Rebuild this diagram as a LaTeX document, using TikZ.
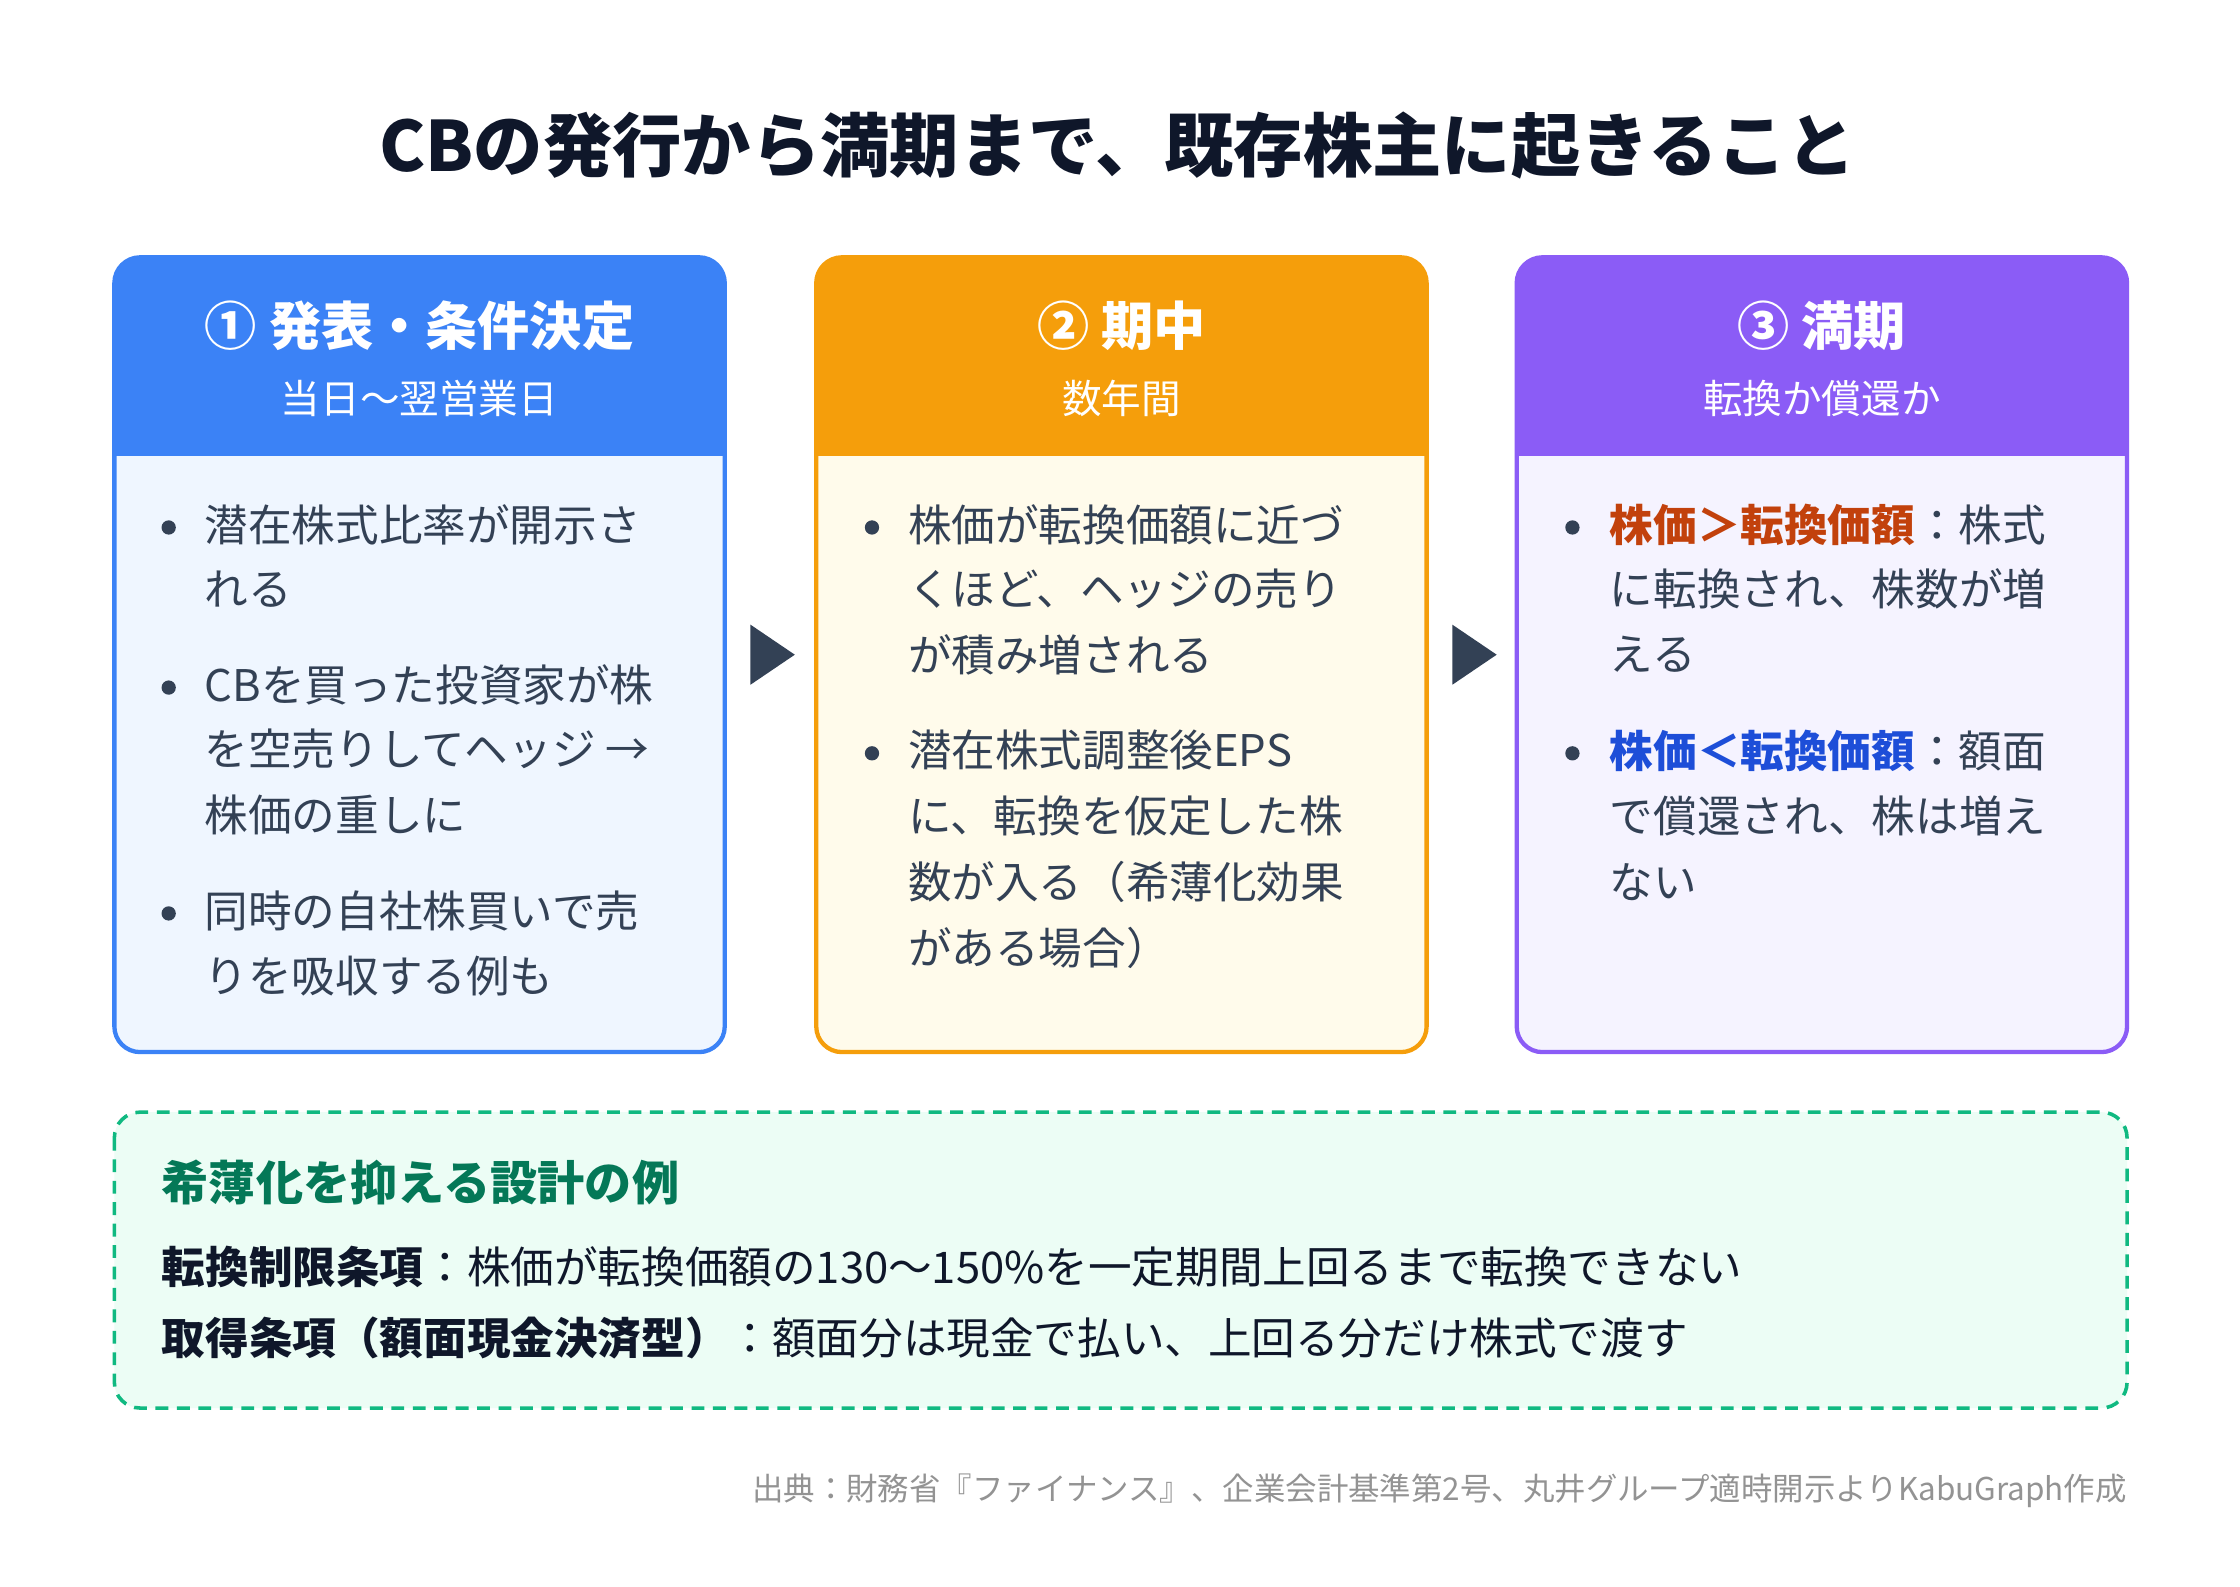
\documentclass[tikz,border=0pt]{standalone}
\usepackage{fontspec}
\setmainfont{Noto Sans CJK JP}
\begin{document}
\begin{tikzpicture}[x=1pt,y=-1pt,
  tx/.style={anchor=west,inner sep=0pt,text=txt,font=\fontsize{30.5}{36}\selectfont},
  hd/.style={inner sep=0pt,text=white,font=\bfseries\fontsize{36.5}{42}\selectfont},
  sb/.style={inner sep=0pt,text=white,font=\fontsize{27.7}{32}\selectfont},
  dot/.style={circle,fill=txt,inner sep=0pt,minimum size=10pt}]
\definecolor{txt}{HTML}{334155}
\definecolor{dark}{HTML}{0F172A}
\definecolor{bl}{HTML}{3B82F6}\definecolor{blf}{HTML}{EFF6FF}
\definecolor{or}{HTML}{F59E0B}\definecolor{orf}{HTML}{FFFBEB}
\definecolor{pu}{HTML}{8B5CF6}\definecolor{puf}{HTML}{F5F3FF}
\definecolor{gr}{HTML}{10B981}\definecolor{grf}{HTML}{ECFDF5}\definecolor{grt}{HTML}{047857}
\definecolor{hor}{HTML}{C2410C}\definecolor{hbl}{HTML}{1D4ED8}
\useasboundingbox[fill=white] (0,0) rectangle (1567,1109.5);
\node[inner sep=0pt,text=dark,font=\bfseries\fontsize{48.5}{55}\selectfont] (title) at (782,102) {CBの発行から満期まで、既存株主に起きること};
\foreach \x/\c/\f/\n in {80/bl/blf/a,571/or/orf/b,1061/pu/puf/c}{
  \fill[\f,rounded corners=18pt] (\x,180) rectangle (\x+427,736);
  \begin{scope}
    \clip[rounded corners=18pt] (\x,180) rectangle (\x+427,736);
    \fill[\c] (\x,180) rectangle (\x+427,319);
  \end{scope}
  \draw[\c,line width=3pt,rounded corners=18pt] (\x,180) rectangle (\x+427,736);
}
\node[hd] (h1) at (293.5,228) {① 発表・条件決定};
\node[sb] (s1) at (293.5,279) {当日〜翌営業日};
\node[hd] (h2) at (784.5,228) {② 期中};
\node[sb] (s2) at (784.5,279) {数年間};
\node[hd] (h3) at (1274.5,228) {③ 満期};
\node[sb] (s3) at (1274.5,279) {転換か償還か};
\fill[txt] (525,437) -- (556,458) -- (525,479) -- cycle;
\fill[txt] (1016,437) -- (1047,458) -- (1016,479) -- cycle;
% box1
\foreach \y in {369,481,639}{\node[dot] at (118,\y) {};}
\node[tx] (a1) at (143,367) {潜在株式比率が開示さ};
\node[tx] (a2) at (143,412) {れる};
\node[tx] (a3) at (143,479) {CBを買った投資家が株};
\node[tx] (a4) at (143,524) {を空売りしてヘッジ →};
\node[tx] (a5) at (143,570) {株価の重しに};
\node[tx] (a6) at (143,637) {同時の自社株買いで売};
\node[tx] (a7) at (143,683) {りを吸収する例も};
% box2
\foreach \y in {369,527}{\node[dot] at (610,\y) {};}
\node[tx] (b1) at (635,367) {株価が転換価額に近づ};
\node[tx] (b2) at (635,412) {くほど、ヘッジの売り};
\node[tx] (b3) at (635,458) {が積み増される};
\node[tx] (b4) at (635,525) {潜在株式調整後EPS};
\node[tx] (b5) at (635,571) {に、転換を仮定した株};
\node[tx] (b6) at (635,617) {数が入る（希薄化効果};
\node[tx] (b7) at (635,663) {がある場合）};
% box3
\foreach \y in {369,527}{\node[dot] at (1100,\y) {};}
\node[tx] (c1) at (1126,367) {{\bfseries\color{hor}株価＞転換価額}：株式};
\node[tx] (c2) at (1126,412) {に転換され、株数が増};
\node[tx] (c3) at (1126,458) {える};
\node[tx] (c4) at (1126,525) {{\bfseries\color{hbl}株価＜転換価額}：額面};
\node[tx] (c5) at (1126,571) {で償還され、株は増え};
\node[tx] (c6) at (1126,617) {ない};
% bottom
\draw[gr,fill=grf,line width=2.5pt,dash pattern=on 9pt off 6pt,rounded corners=18pt] (80,778) rectangle (1488,985);
\node[tx,text=grt,font=\bfseries\fontsize{33}{38}\selectfont] (g0) at (113,827) {希薄化を抑える設計の例};
\node[tx,text=dark,font=\fontsize{30.5}{36}\selectfont] (g1) at (113,886) {{\bfseries 転換制限条項}：株価が転換価額の130〜150\%を一定期間上回るまで転換できない};
\node[tx,text=dark,font=\fontsize{30.5}{36}\selectfont] (g2) at (113,936) {{\bfseries 取得条項（額面現金決済型）}：額面分は現金で払い、上回る分だけ株式で渡す};
\node[anchor=east,inner sep=0pt,text=gray!85,font=\fontsize{22}{26}\selectfont] (src) at (1488,1043) {出典：財務省『ファイナンス』、企業会計基準第2号、丸井グループ適時開示よりKabuGraph作成};
\end{tikzpicture}
\end{document}
